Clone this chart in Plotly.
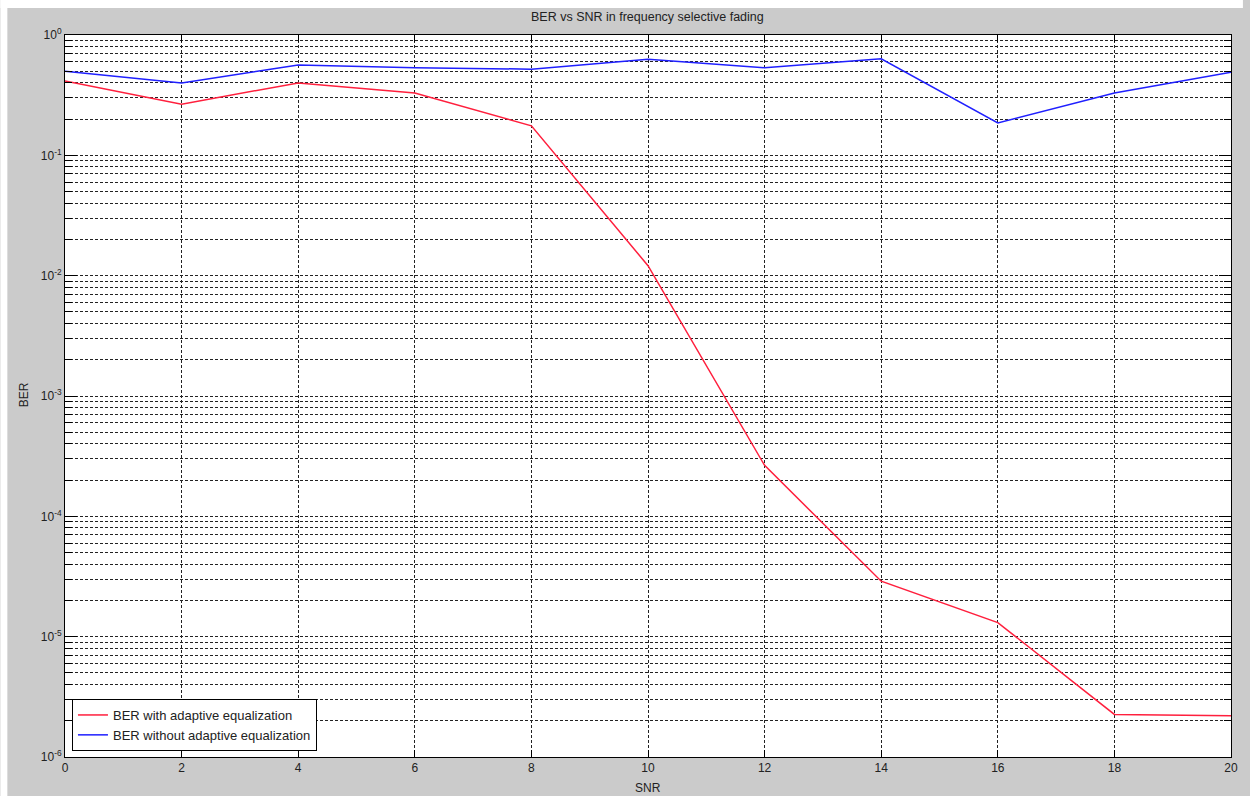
import plotly.graph_objects as go

# SNR points (dB)
snr = [0, 2, 4, 6, 8, 10, 12, 14, 16, 18, 20]

# Bit error rate with and without the adaptive equalizer
ber_eq = [0.415, 0.266, 0.40, 0.33, 0.176, 0.0121, 2.65e-4, 2.89e-5, 1.31e-5, 2.26e-6, 2.2e-6]
ber_no_eq = [0.50, 0.40, 0.564, 0.535, 0.52, 0.629, 0.535, 0.635, 0.186, 0.33, 0.49]

series_names = ["BER with adaptive equalization", "BER without adaptive equalization"]

# Decade tick labels on the log axis
decades = [0, -1, -2, -3, -4, -5, -6]
decade_labels = ["10<sup>%d</sup>" % d for d in decades]

W, H = 1250, 796
ML, MR, MT, MB = 65, 12, 35, 39
PW, PH = W - ML - MR, H - MT - MB

def px_x(p):
    return (p - ML) / PW

def px_y(p):
    return (H - MB - p) / PH

FONT = "Liberation Sans, Arial, sans-serif"
GRID_DASH = "3px,2px"

fig = go.Figure()
fig.add_trace(go.Scatter(x=snr, y=ber_eq, mode="lines", name=series_names[0],
                         line=dict(color="#ff1f3d", width=1.5)))
fig.add_trace(go.Scatter(x=snr, y=ber_no_eq, mode="lines", name=series_names[1],
                         line=dict(color="#1f1fff", width=1.5)))

minor_vals = [k * 10.0 ** d for d in range(-6, 0) for k in range(2, 10)]

fig.update_xaxes(
    range=[0, 20], tickmode="array", tickvals=snr, ticktext=[str(v) for v in snr],
    showgrid=True, gridcolor="#222222", griddash=GRID_DASH, gridwidth=1,
    zeroline=False, showline=True, linecolor="black", linewidth=1, mirror="ticks",
    ticks="inside", ticklen=7, tickcolor="black",
    tickfont=dict(family=FONT, size=12, color="#222222"),
)
fig.update_yaxes(
    type="log", range=[-6, 0], tickmode="array",
    tickvals=[10.0 ** d for d in decades], ticktext=decade_labels,
    showgrid=True, gridcolor="#222222", griddash=GRID_DASH, gridwidth=1,
    zeroline=False, showline=True, linecolor="black", linewidth=1, mirror="ticks",
    ticks="inside", ticklen=12, tickcolor="black",
    tickfont=dict(family=FONT, size=12, color="#222222"),
    minor=dict(tickmode="array", tickvals=minor_vals, ticks="inside", ticklen=7,
               tickcolor="black", showgrid=True, gridcolor="#222222",
               griddash=GRID_DASH, gridwidth=1),
)

fig.update_layout(
    width=W, height=H,
    margin=dict(l=ML, r=MR, t=MT, b=MB),
    paper_bgcolor="#cbcbcb", plot_bgcolor="white",
    showlegend=True,
    legend=dict(x=px_x(72), y=px_y(751), xanchor="left", yanchor="bottom",
                bgcolor="white", bordercolor="black", borderwidth=1,
                font=dict(family=FONT, size=13, color="#222222"),
                tracegroupgap=0),
    annotations=[
        dict(text="BER vs SNR in frequency selective fading", x=px_x(651), y=px_y(17),
             xref="paper", yref="paper", showarrow=False, xanchor="center", yanchor="middle",
             font=dict(family=FONT, size=12.5, color="#222222")),
        dict(text="SNR", x=px_x(651), y=px_y(788), xref="paper", yref="paper",
             showarrow=False, xanchor="center", yanchor="middle",
             font=dict(family=FONT, size=12, color="#222222")),
        dict(text="BER", x=px_x(24), y=px_y(395), xref="paper", yref="paper",
             showarrow=False, xanchor="center", yanchor="middle", textangle=-90,
             font=dict(family=FONT, size=12, color="#222222")),
    ],
    shapes=[
        # white border strips at the top and left of the window
        dict(type="rect", xref="paper", yref="paper", x0=px_x(0), x1=px_x(W),
             y0=px_y(8), y1=px_y(0), fillcolor="white", line=dict(width=0)),
        dict(type="rect", xref="paper", yref="paper", x0=px_x(0), x1=px_x(7),
             y0=px_y(H), y1=px_y(0), fillcolor="white", line=dict(width=0)),
    ],
)

fig.write_html("out.html")
